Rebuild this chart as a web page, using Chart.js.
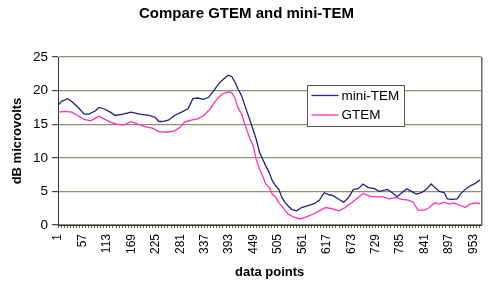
<!DOCTYPE html>
<html>
<head>
<meta charset="utf-8">
<script src="https://cdn.jsdelivr.net/npm/chart.js@4"></script>
<style>
  html, body { margin: 0; padding: 0; background: #fff; }
  #wrap { width: 500px; height: 290px; }
</style>
</head>
<body>
<div id="wrap"><canvas id="chart" width="500" height="290"></canvas></div>
<script>
// x axis labels (data point numbers) and y ticks
const xLabels = [1, 57, 113, 169, 225, 281, 337, 393, 449, 505, 561, 617, 673, 729, 785, 841, 897, 953];
const yTicks = [0, 5, 10, 15, 20, 25];

// mini-TEM readings (data point, dB microvolts)
const miniTemX = [1, 9, 23, 34, 50, 61, 72, 87, 95, 106, 121, 132, 150, 168, 188, 210, 224, 232, 239, 254,
  268, 284, 299, 310, 321, 335, 346, 358, 369, 380, 391, 399, 407, 413, 422, 429, 436, 444, 455, 463,
  470, 477, 485, 492, 500, 507, 514, 522, 529, 537, 548, 559, 574, 589, 600, 611, 622, 630, 645, 656,
  667, 678, 689, 700, 711, 726, 737, 756, 767, 778, 789, 800, 811, 822, 834, 845, 856, 864, 875, 886,
  893, 904, 916, 923, 934, 945, 957, 968];
const miniTemY = [17.8, 18.4, 18.8, 18.3, 17.3, 16.5, 16.5, 17.0, 17.5, 17.3, 16.8, 16.3, 16.5, 16.8, 16.5, 16.3, 16.0, 15.4, 15.4, 15.6,
  16.3, 16.8, 17.3, 18.8, 18.9, 18.7, 19.0, 20.0, 21.0, 21.7, 22.3, 22.1, 21.2, 20.3, 19.2, 17.8, 16.5, 15.0, 12.8, 10.8,
  9.8, 8.8, 7.8, 6.6, 5.8, 5.3, 4.1, 3.3, 2.8, 2.3, 2.1, 2.6, 2.9, 3.2, 3.7, 4.8, 4.5, 4.4, 3.8, 3.4,
  4.1, 5.3, 5.4, 6.1, 5.6, 5.4, 5.0, 5.3, 4.8, 4.2, 4.8, 5.4, 5.0, 4.6, 4.8, 5.3, 6.1, 5.6, 5.0, 4.8,
  3.9, 3.8, 3.9, 4.6, 5.3, 5.8, 6.2, 6.7];

// GTEM readings (data point, dB microvolts)
const gtemX = [1, 17, 32, 46, 61, 76, 87, 95, 106, 121, 135, 154, 168, 184, 202, 217, 232, 251, 268, 280,
  291, 306, 321, 335, 350, 366, 377, 391, 399, 407, 413, 422, 429, 440, 448, 455, 463, 470, 477, 485,
  492, 500, 507, 514, 522, 529, 540, 555, 570, 585, 600, 615, 630, 645, 659, 674, 689, 700, 715, 730,
  745, 760, 775, 789, 804, 815, 826, 841, 852, 864, 875, 886, 897, 908, 923, 934, 945, 957, 968];
const gtemY = [16.8, 16.9, 16.8, 16.3, 15.7, 15.5, 15.9, 16.2, 15.8, 15.3, 15.0, 14.9, 15.4, 15.0, 14.6, 14.4, 13.9, 13.8, 14.0, 14.5,
  15.3, 15.6, 15.8, 16.3, 17.3, 18.8, 19.5, 19.8, 19.7, 18.8, 17.5, 16.5, 15.0, 13.0, 11.8, 9.8, 8.3, 7.3, 6.1, 5.6,
  4.6, 4.1, 3.3, 2.8, 2.1, 1.6, 1.2, 0.9, 1.2, 1.6, 2.1, 2.6, 2.4, 2.1, 2.6, 3.3, 4.1, 4.7, 4.3, 4.2,
  4.2, 3.9, 4.1, 3.8, 3.7, 3.4, 2.2, 2.2, 2.6, 3.3, 3.1, 3.4, 3.1, 3.3, 2.9, 2.6, 3.1, 3.3, 3.2];

const FONT = "'Liberation Sans', Arial, sans-serif";
const toPoints = (xs, ys) => xs.map((x, i) => ({ x: x, y: ys[i] }));

// legend box drawn inside the plot, like the original
const boxLegend = {
  id: 'boxLegend',
  afterDatasetsDraw(chart) {
    const ctx = chart.ctx;
    const bx = 307.5, by = 85.5, bw = 97, bh = 41;
    ctx.save();
    ctx.fillStyle = '#fff';
    ctx.fillRect(bx, by, bw, bh);
    ctx.strokeStyle = '#555';
    ctx.lineWidth = 1;
    ctx.strokeRect(bx, by, bw, bh);
    ctx.font = '13.5px ' + FONT;
    ctx.textBaseline = 'middle';
    chart.data.datasets.forEach((ds, i) => {
      const y = by + 10 + i * 19.5;
      ctx.strokeStyle = ds.borderColor;
      ctx.lineWidth = 1.3;
      ctx.beginPath();
      ctx.moveTo(bx + 4, y);
      ctx.lineTo(bx + 31, y);
      ctx.stroke();
      ctx.fillStyle = '#000';
      ctx.fillText(ds.label, bx + 34, y + 0.5);
    });
    // right border of the plot area
    const a = chart.chartArea;
    ctx.strokeStyle = '#4d5a40';
    ctx.beginPath();
    ctx.moveTo(a.right + 0.5, a.top);
    ctx.lineTo(a.right + 0.5, a.bottom);
    ctx.stroke();
    ctx.restore();
  }
};

new Chart(document.getElementById('chart'), {
  type: 'line',
  data: {
    datasets: [
      {
        label: 'mini-TEM',
        data: toPoints(miniTemX, miniTemY),
        borderColor: '#20207c',
        borderWidth: 1.3,
        pointRadius: 0,
        tension: 0
      },
      {
        label: 'GTEM',
        data: toPoints(gtemX, gtemY),
        borderColor: '#ff30b4',
        borderWidth: 1.3,
        pointRadius: 0,
        tension: 0
      }
    ]
  },
  plugins: [boxLegend],
  options: {
    responsive: false,
    animation: false,
    layout: { padding: { top: 0, right: 7, bottom: 0, left: 0 } },
    plugins: {
      legend: { display: false },
      tooltip: { enabled: false },
      title: {
        display: true,
        text: 'Compare GTEM and mini-TEM',
        color: '#000',
        font: { family: FONT, size: 15, weight: 'bold' },
        padding: { top: 4.5, bottom: 34.5 }
      }
    },
    scales: {
      x: {
        type: 'linear',
        min: 1,
        max: 971,
        afterBuildTicks: (scale) => {
          // minor tick marks every 7 points, labels only at the listed values
          const t = [];
          for (let v = 1; v <= 967; v += 7) t.push({ value: v });
          scale.ticks = t;
        },
        afterFit: (scale) => { scale.height = 65; },
        ticks: {
          autoSkip: false,
          minRotation: 90,
          maxRotation: 90,
          padding: 6,
          color: '#000',
          font: { family: FONT, size: 12 },
          callback: (v) => xLabels.includes(v) ? String(v) : ''
        },
        grid: {
          drawOnChartArea: false,
          drawTicks: true,
          tickLength: 3,
          tickColor: '#555'
        },
        border: { color: '#333', width: 1 },
        title: {
          display: true,
          text: 'data points',
          color: '#000',
          font: { family: FONT, size: 13, weight: 'bold' },
          padding: { top: 0, bottom: 10 }
        }
      },
      y: {
        min: 0,
        max: 25,
        afterBuildTicks: (scale) => { scale.ticks = yTicks.map(v => ({ value: v })); },
        afterFit: (scale) => { scale.width = 58; },
        ticks: {
          padding: 4,
          color: '#000',
          font: { family: FONT, size: 13.5 }
        },
        grid: {
          color: '#8e8e72',
          lineWidth: 1.2,
          tickLength: 6,
          tickColor: '#444'
        },
        border: { color: '#333', width: 1 },
        title: {
          display: true,
          text: 'dB microvolts',
          color: '#000',
          font: { family: FONT, size: 13, weight: 'bold' },
          padding: { top: 10, bottom: 0 }
        }
      }
    }
  }
});
</script>
</body>
</html>
